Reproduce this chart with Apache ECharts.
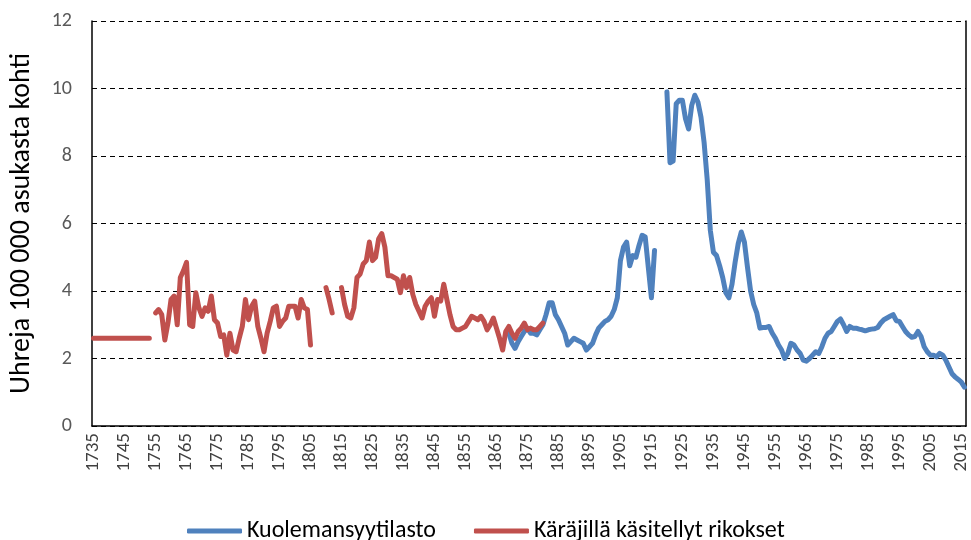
<!DOCTYPE html>
<html lang="fi">
<head>
    <meta charset="UTF-8">
    <title>Henkirikokset Suomessa 1735-2016</title>
    <script src="https://cdn.jsdelivr.net/npm/echarts@6/dist/echarts.min.js"></script>
    <style>
        html, body { margin: 0; padding: 0; background: #fff; }
        #main { width: 971px; height: 540px; }
    </style>
</head>
<body>
    <div id="main"></div>
    <script>
        // x-akselin merkinnät
        var tickYears = [1735, 1745, 1755, 1765, 1775, 1785, 1795, 1805, 1815, 1825,
            1835, 1845, 1855, 1865, 1875, 1885, 1895, 1905, 1915, 1925,
            1935, 1945, 1955, 1965, 1975, 1985, 1995, 2005, 2015];

        // Käräjillä käsitellyt rikokset, alkaa 1735 (null = ei tietoa)
        var rikoksetStart = 1735;
        var rikokset = [
            2.6, 2.6, 2.6, 2.6, 2.6, 2.6, 2.6, 2.6, 2.6, 2.6,       // 1735-1744
            2.6, 2.6, 2.6, 2.6, 2.6, 2.6, 2.6, 2.6, 2.6, null,      // 1745-1754
            3.35, 3.45, 3.3, 2.55, 3.05, 3.75, 3.85, 3.0, 4.4, 4.6, // 1755-1764
            4.85, 3.0, 2.95, 3.95, 3.5, 3.25, 3.5, 3.4, 3.85, 3.15, // 1765-1774
            3.05, 2.65, 2.7, 2.1, 2.75, 2.25, 2.2, 2.6, 2.95, 3.75, // 1775-1784
            3.15, 3.55, 3.7, 2.95, 2.6, 2.2, 2.75, 3.1, 3.5, 3.55,  // 1785-1794
            2.95, 3.1, 3.2, 3.55, 3.55, 3.55, 3.2, 3.75, 3.5, 3.45, // 1795-1804
            2.4, null, null, null, null, 4.1, 3.75, 3.35, null, null, // 1805-1814
            4.1, 3.6, 3.25, 3.2, 3.5, 4.4, 4.5, 4.8, 4.9, 5.45,     // 1815-1824
            4.9, 5.0, 5.55, 5.7, 5.3, 4.45, 4.45, 4.4, 4.35, 3.95,  // 1825-1834
            4.45, 4.1, 4.4, 3.9, 3.6, 3.4, 3.2, 3.55, 3.7, 3.8,     // 1835-1844
            3.25, 3.75, 3.7, 4.2, 3.75, 3.3, 2.95, 2.85, 2.85, 2.9, // 1845-1854
            2.95, 3.1, 3.25, 3.2, 3.15, 3.25, 3.1, 2.85, 3.0, 3.2,  // 1855-1864
            2.9, 2.6, 2.25, 2.8, 2.95, 2.75, 2.6, 2.8, 2.9, 3.05,   // 1865-1874
            2.85, 2.9, 2.85, 2.85, 2.95, 3.05                       // 1875-1880
        ];

        // Kuolemansyytilasto, alkaa 1869
        var kuolemansyytStart = 1869;
        var kuolemansyyt = [
            2.75, 2.45, 2.3, 2.5, 2.65, 2.8, 2.9, 2.75, 2.75, 2.7,   // 1869-1878
            2.85, 3.0, 3.3, 3.65, 3.65, 3.3, 3.15, 2.95, 2.75, 2.4,  // 1879-1888
            2.5, 2.6, 2.55, 2.5, 2.45, 2.25, 2.35, 2.45, 2.7, 2.9,   // 1889-1898
            3.0, 3.1, 3.15, 3.25, 3.45, 3.8, 4.9, 5.3, 5.45, 4.75,   // 1899-1908
            5.05, 5.0, 5.35, 5.65, 5.6, 4.7, 3.8, 5.2, null, null,   // 1909-1918
            null, 9.9, 7.8, 7.85, 9.55, 9.65, 9.65, 9.1, 8.8, 9.5,   // 1919-1928
            9.8, 9.6, 9.15, 8.4, 7.3, 5.8, 5.15, 5.05, 4.75, 4.4,    // 1929-1938
            3.95, 3.8, 4.2, 4.85, 5.4, 5.75, 5.45, 4.7, 4.0, 3.6,    // 1939-1948
            3.35, 2.9, 2.92, 2.92, 2.95, 2.75, 2.6, 2.4, 2.25, 2.0,  // 1949-1958
            2.15, 2.45, 2.4, 2.25, 2.15, 1.95, 1.92, 2.0, 2.1, 2.2,  // 1959-1968
            2.15, 2.35, 2.6, 2.75, 2.8, 2.95, 3.1, 3.17, 3.0, 2.8,   // 1969-1978
            2.95, 2.9, 2.9, 2.87, 2.85, 2.82, 2.85, 2.87, 2.88, 2.92, // 1979-1988
            3.05, 3.15, 3.2, 3.25, 3.3, 3.12, 3.1, 2.95, 2.8, 2.7,   // 1989-1998
            2.63, 2.65, 2.8, 2.65, 2.35, 2.2, 2.1, 2.1, 2.05, 2.15,  // 1999-2008
            2.1, 1.95, 1.75, 1.55, 1.45, 1.38, 1.3, 1.15             // 2009-2016
        ];

        // [vuosi, arvo] -parit
        function pairs(startYear, values) {
            return values.map(function (v, i) { return [startYear + i, v]; });
        }

        var font = "Carlito, 'Liberation Sans', sans-serif";
        var myChart = echarts.init(document.getElementById('main'));

        var option = {
            animation: false,
            // outerBoundsMode none: ei kutisteta akselin tekstejä
            grid: { left: 92, right: 5, top: 21, bottom: 114, outerBoundsMode: 'none' },
            legend: {
                left: 182,
                top: 514,
                itemWidth: 55,
                itemHeight: 5,
                itemGap: 38,
                icon: 'roundRect',
                textStyle: { fontFamily: font, fontSize: 24, color: '#000' },
                data: ['Kuolemansyytilasto', 'Käräjillä käsitellyt rikokset']
            },
            xAxis: {
                type: 'value',
                min: 1734.5,
                max: 2016.5,
                splitLine: { show: false },
                axisLine: { lineStyle: { color: '#000', width: 1.5 } },
                axisTick: { show: false },
                axisLabel: {
                    customValues: tickYears,
                    rotate: 90,
                    margin: 7,
                    fontFamily: 'Carlito',
                    fontSize: 19,
                    color: '#404040',
                    formatter: function (v) { return String(v); }
                }
            },
            yAxis: [
                {
                    type: 'value',
                    min: 0,
                    max: 12,
                    interval: 2,
                    name: 'Uhreja 100 000 asukasta kohti',
                    nameLocation: 'middle',
                    nameGap: 56,
                    nameTextStyle: { fontFamily: font, fontSize: 28, color: '#000' },
                    axisLine: { show: true, lineStyle: { color: '#000', width: 1.5 } },
                    axisTick: { show: false },
                    axisLabel: { fontFamily: font, fontSize: 20, color: '#595959', margin: 20 },
                    splitLine: { lineStyle: { color: '#000', type: [5, 4], width: 1 } }
                },
                {
                    type: 'value',
                    min: 0,
                    max: 12,
                    position: 'right',
                    axisLine: { show: true, lineStyle: { color: '#000', width: 1.5 } },
                    axisTick: { show: false },
                    axisLabel: { show: false },
                    splitLine: { show: false }
                }
            ],
            series: [
                {
                    name: 'Kuolemansyytilasto',
                    type: 'line',
                    data: pairs(kuolemansyytStart, kuolemansyyt),
                    showSymbol: false,
                    color: '#4F81BD',
                    lineStyle: { width: 5, cap: 'round', join: 'round' }
                },
                {
                    name: 'Käräjillä käsitellyt rikokset',
                    type: 'line',
                    data: pairs(rikoksetStart, rikokset),
                    showSymbol: false,
                    color: '#C0504D',
                    lineStyle: { width: 5, cap: 'round', join: 'round' }
                }
            ]
        };

        myChart.setOption(option);
    </script>
</body>
</html>
